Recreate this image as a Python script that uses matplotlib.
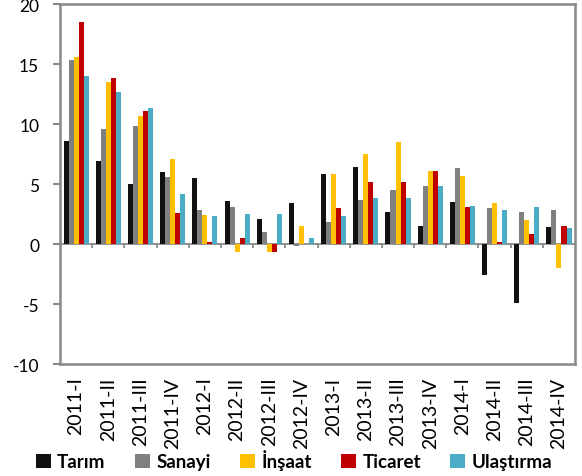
import matplotlib
matplotlib.use("Agg")
import matplotlib.pyplot as plt
from matplotlib.patches import Patch
import numpy as np

plt.rcParams['font.family'] = ['Lato', 'DejaVu Sans']
plt.rcParams['axes.unicode_minus'] = False

# ceyrekler ve sektor buyume oranlari (%)
ceyrekler = ['2011-I', '2011-II', '2011-III', '2011-IV',
             '2012-I', '2012-II', '2012-III', '2012-IV',
             '2013-I', '2013-II', '2013-III', '2013-IV',
             '2014-I', '2014-II', '2014-III', '2014-IV']
sektorler = ['Tarım', 'Sanayi', 'İnşaat', 'Ticaret', 'Ulaştırma']
renkler = ['#111111', '#808080', '#FFC000', '#C00000', '#4BACC6']

tarim     = [8.6, 6.9, 5.0, 6.0, 5.5, 3.6, 2.1, 3.4, 5.8, 6.4, 2.7, 1.5, 3.5, -2.6, -4.9, 1.4]
sanayi    = [15.3, 9.6, 9.8, 5.6, 2.8, 3.1, 1.0, -0.15, 1.8, 3.7, 4.5, 4.8, 6.3, 3.0, 2.7, 2.8]
insaat    = [15.6, 13.5, 10.7, 7.1, 2.4, -0.7, -0.7, 1.5, 5.8, 7.5, 8.5, 6.1, 5.7, 3.4, 2.0, -2.0]
ticaret   = [18.5, 13.8, 11.1, 2.6, 0.2, 0.5, -0.7, 0.0, 3.0, 5.2, 5.2, 6.1, 3.1, 0.15, 0.8, 1.5]
ulastirma = [14.0, 12.7, 11.3, 4.2, 2.3, 2.5, 2.5, 0.5, 2.3, 3.8, 3.8, 4.8, 3.2, 2.8, 3.1, 1.3]

seriler = [tarim, sanayi, insaat, ticaret, ulastirma]

fig = plt.figure(figsize=(5.82, 4.77), dpi=100)
ax = fig.add_axes([0.1031, 0.2348, 0.885, 0.7547])

n = len(ceyrekler)
x = np.arange(n) + 0.5
gen = 0.156
for i, (s, r) in enumerate(zip(seriler, renkler)):
    ax.bar(x + (i - 2) * gen, s, width=gen, color=r, linewidth=0, zorder=3)

ax.set_xlim(0, n)
ax.set_ylim(-10, 20)
ax.set_yticks([-10, -5, 0, 5, 10, 15, 20])
ax.set_xticks(x)
ax.set_xticklabels(ceyrekler, rotation=90, fontsize=14)
ax.tick_params(axis='x', length=0, pad=9)
ax.tick_params(axis='y', length=5, width=1.5, color='#898989', pad=10, labelsize=12.5)

for sp in ax.spines.values():
    sp.set_color('#898989')
    sp.set_linewidth(1.8)

# sifir cizgisi ve kategori ayirici isaretler
ax.axhline(0, color='#898989', lw=1.3, zorder=2)
ax.vlines(np.arange(1, n), -0.35, 0, color='#898989', lw=1.3, zorder=2)

kutular = [Patch(facecolor=r, edgecolor='none') for r in renkler]
fig.legend(kutular, sektorler, loc='center', bbox_to_anchor=(0.505, 1 - 461 / 477),
           ncol=5, frameon=False, handlelength=0.8, handleheight=0.8,
           handletextpad=0.35, columnspacing=1.55,
           prop={'weight': 'bold', 'size': 13.5})

fig.savefig('out.png', dpi=100)
